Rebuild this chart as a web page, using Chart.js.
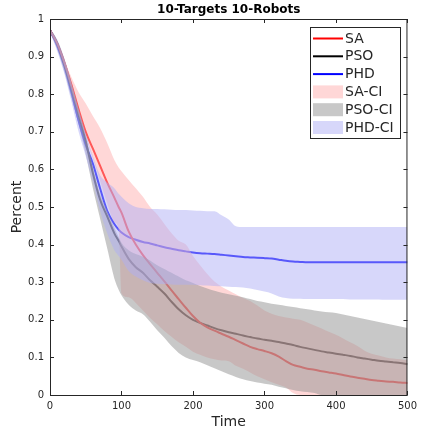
<!DOCTYPE html>
<html lang="en">
<head>
  <meta charset="UTF-8">
  <title>10-Targets 10-Robots</title>
  <script src="https://cdn.jsdelivr.net/npm/chart.js"></script>
  <style>
    html, body { margin: 0; padding: 0; background: #fff; }
    #wrap { width: 422px; height: 437px; }
  </style>
</head>
<body>
  <div id="wrap"><canvas id="chart" width="422" height="437"></canvas></div>

  <script>
    // time steps (x values) shared by every series
    const time = [0, 10, 20, 30, 40, 50, 60, 70, 80, 90, 96,
      100, 110, 120, 130, 140, 150, 160, 170, 180, 190,
      200, 210, 220, 230, 240, 250, 260, 270, 280, 290,
      300, 310, 320, 330, 340, 350, 360, 370, 380, 390,
      400, 410, 420, 430, 440, 450, 460, 470, 480, 490, 500];

    const saMean = [0.97, 0.935, 0.885, 0.825, 0.76, 0.70, 0.655, 0.61, 0.565, 0.525, 0.50,
      0.485, 0.435, 0.40, 0.372, 0.348, 0.325, 0.302, 0.278, 0.255, 0.232,
      0.21, 0.192, 0.18, 0.171, 0.163, 0.155, 0.146, 0.137, 0.128, 0.122,
      0.117, 0.111, 0.102, 0.09, 0.08, 0.075, 0.07, 0.067, 0.063, 0.06,
      0.057, 0.053, 0.049, 0.046, 0.043, 0.04, 0.038, 0.036, 0.035, 0.033, 0.032];
    const psoMean = [0.97, 0.935, 0.88, 0.815, 0.745, 0.675, 0.59, 0.52, 0.475, 0.43, 0.41,
      0.395, 0.362, 0.34, 0.325, 0.305, 0.288, 0.27, 0.248, 0.228, 0.212,
      0.20, 0.192, 0.185, 0.178, 0.172, 0.167, 0.163, 0.158, 0.154, 0.15,
      0.147, 0.144, 0.141, 0.137, 0.133, 0.128, 0.124, 0.12, 0.116, 0.113,
      0.11, 0.107, 0.104, 0.10, 0.097, 0.094, 0.091, 0.089, 0.087, 0.085, 0.082];
    const phdMean = [0.97, 0.93, 0.875, 0.805, 0.73, 0.665, 0.615, 0.55, 0.49, 0.455, 0.44,
      0.432, 0.42, 0.413, 0.407, 0.403, 0.398, 0.393, 0.389, 0.385, 0.382,
      0.379, 0.377, 0.376, 0.375, 0.373, 0.371, 0.369, 0.367, 0.366, 0.365,
      0.364, 0.363, 0.36, 0.357, 0.355, 0.354, 0.353, 0.353, 0.353, 0.353,
      0.353, 0.353, 0.353, 0.353, 0.353, 0.353, 0.353, 0.353, 0.353, 0.353, 0.353];

    const saUpper = [0.975, 0.94, 0.89, 0.845, 0.805, 0.775, 0.742, 0.71, 0.67, 0.625, 0.605,
      0.595, 0.572, 0.55, 0.527, 0.50, 0.48, 0.455, 0.43, 0.41, 0.40,
      0.37, 0.345, 0.322, 0.302, 0.288, 0.278, 0.268, 0.258, 0.25, 0.238,
      0.225, 0.216, 0.21, 0.206, 0.203, 0.20, 0.193, 0.185, 0.177, 0.168,
      0.16, 0.15, 0.14, 0.13, 0.118, 0.11, 0.105, 0.10, 0.097, 0.095, 0.093];
    const saLower = [0.965, 0.93, 0.875, 0.81, 0.745, 0.685, 0.63, 0.57, 0.51, 0.46, 0.44,
      0.27, 0.26, 0.245, 0.225, 0.205, 0.188, 0.17, 0.155, 0.14, 0.128,
      0.115, 0.107, 0.10, 0.095, 0.092, 0.09, 0.078, 0.07, 0.06, 0.05,
      0.042, 0.034, 0.027, 0.02, 0.005, 0, 0, 0, 0, 0,
      0, 0, 0, 0, 0, 0, 0, 0, 0, 0, 0];
    const psoUpper = [0.975, 0.945, 0.895, 0.83, 0.76, 0.69, 0.605, 0.535, 0.49, 0.445, 0.42,
      0.405, 0.385, 0.375, 0.368, 0.358, 0.345, 0.335, 0.325, 0.315, 0.305,
      0.298, 0.29, 0.283, 0.277, 0.272, 0.268, 0.264, 0.26, 0.255, 0.25,
      0.247, 0.243, 0.24, 0.237, 0.234, 0.231, 0.228, 0.225, 0.222, 0.22,
      0.218, 0.214, 0.21, 0.206, 0.202, 0.198, 0.194, 0.19, 0.186, 0.182, 0.178];
    const psoLower = [0.965, 0.92, 0.86, 0.79, 0.72, 0.64, 0.55, 0.47, 0.39, 0.31, 0.28,
      0.265, 0.24, 0.225, 0.215, 0.195, 0.172, 0.152, 0.13, 0.112, 0.10,
      0.093, 0.087, 0.079, 0.071, 0.063, 0.055, 0.048, 0.042, 0.037, 0.033,
      0.03, 0.027, 0.022, 0.018, 0.013, 0.01, 0.008, 0.005, 0, 0,
      0, 0, 0, 0, 0, 0, 0, 0, 0, 0, 0];
    const phdUpper = [0.975, 0.945, 0.895, 0.83, 0.76, 0.695, 0.635, 0.585, 0.565, 0.55, 0.535,
      0.527, 0.51, 0.50, 0.497, 0.495, 0.495, 0.494, 0.493, 0.492, 0.492,
      0.491, 0.49, 0.489, 0.489, 0.478, 0.467, 0.449, 0.447, 0.447, 0.447,
      0.447, 0.447, 0.447, 0.447, 0.447, 0.447, 0.447, 0.447, 0.447, 0.447,
      0.447, 0.447, 0.447, 0.447, 0.447, 0.447, 0.447, 0.447, 0.447, 0.447, 0.447];
    const phdLower = [0.965, 0.915, 0.855, 0.78, 0.70, 0.635, 0.565, 0.49, 0.43, 0.385, 0.37,
      0.36, 0.33, 0.315, 0.305, 0.298, 0.296, 0.295, 0.294, 0.293, 0.293,
      0.293, 0.292, 0.291, 0.29, 0.289, 0.288, 0.287, 0.286, 0.283, 0.279,
      0.275, 0.27, 0.262, 0.258, 0.256, 0.256, 0.255, 0.255, 0.255, 0.255,
      0.255, 0.255, 0.254, 0.254, 0.254, 0.254, 0.254, 0.253, 0.253, 0.253, 0.253];

    const xTicks = [0, 100, 200, 300, 400, 500];
    const yTickLabels = ['0', '0.1', '0.2', '0.3', '0.4', '0.5', '0.6', '0.7', '0.8', '0.9', '1'];

    const pts = arr => time.map((t, i) => ({ x: t, y: arr[i] }));
    const textColor = '#262626';

    const meanLine = (label, arr, color) => ({
      label, data: pts(arr), borderColor: color, borderWidth: 2,
      pointRadius: 0, fill: false, order: 10, legendKind: 'line', legendColor: color
    });
    const bandLow = (arr, order) => ({
      label: '', data: pts(arr), borderWidth: 0, borderColor: 'transparent',
      pointRadius: 0, fill: false, order
    });
    const bandHigh = (label, arr, color, order) => ({
      label, data: pts(arr), borderWidth: 0, borderColor: 'transparent',
      pointRadius: 0, fill: '-1', backgroundColor: color, order,
      legendKind: 'box', legendColor: color
    });

    // matlab style box, inward ticks, title and legend
    const matlabAxes = {
      id: 'matlabAxes',
      afterDraw(chart) {
        const { ctx, chartArea: a, scales: { x, y } } = chart;
        ctx.save();
        ctx.strokeStyle = textColor;
        ctx.lineWidth = 1;
        ctx.strokeRect(a.left + 0.5, a.top + 0.5, a.right - a.left - 1, a.bottom - a.top);
        ctx.beginPath();
        x.ticks.forEach(t => {
          const px = Math.round(x.getPixelForValue(t.value)) + 0.5;
          ctx.moveTo(px, a.bottom); ctx.lineTo(px, a.bottom - 4);
          ctx.moveTo(px, a.top); ctx.lineTo(px, a.top + 4);
        });
        y.ticks.forEach(t => {
          const py = Math.round(y.getPixelForValue(t.value)) + 0.5;
          ctx.moveTo(a.left, py); ctx.lineTo(a.left + 4, py);
          ctx.moveTo(a.right, py); ctx.lineTo(a.right - 4, py);
        });
        ctx.stroke();

        // title
        ctx.fillStyle = '#000';
        ctx.font = 'bold 12px "DejaVu Sans"';
        ctx.textAlign = 'center';
        ctx.textBaseline = 'middle';
        ctx.fillText('10-Targets 10-Robots', (a.left + a.right) / 2, 10);

        // legend
        const items = chart.data.datasets.filter(d => d.legendKind);
        const bx = 310.5, by = 27.5, bw = 90, bh = 111;
        ctx.fillStyle = '#fff';
        ctx.fillRect(bx, by, bw, bh);
        ctx.strokeStyle = textColor;
        ctx.strokeRect(bx, by, bw, bh);
        ctx.font = '14px "DejaVu Sans"';
        ctx.textAlign = 'left';
        items.forEach((d, i) => {
          const cy = 38.5 + i * 17.8;
          if (d.legendKind === 'line') {
            ctx.strokeStyle = d.legendColor;
            ctx.lineWidth = 2;
            ctx.beginPath();
            ctx.moveTo(313, cy); ctx.lineTo(343, cy);
            ctx.stroke();
          } else {
            ctx.fillStyle = d.legendColor;
            ctx.fillRect(313, cy - 6.5, 30, 13);
          }
          ctx.fillStyle = textColor;
          ctx.fillText(d.label, 345, cy + 0.5);
        });
        ctx.restore();
      }
    };

    new Chart(document.getElementById('chart'), {
      type: 'line',
      data: {
        datasets: [
          meanLine('SA', saMean, '#ff0000'),
          meanLine('PSO', psoMean, '#000000'),
          meanLine('PHD', phdMean, '#0000ff'),
          bandLow(saLower, 3),
          bandHigh('SA-CI', saUpper, 'rgba(255,175,175,0.5)', 3),
          bandLow(psoLower, 2),
          bandHigh('PSO-CI', psoUpper, 'rgba(145,145,145,0.5)', 2),
          bandLow(phdLower, 1),
          bandHigh('PHD-CI', phdUpper, 'rgba(175,175,245,0.5)', 1)
        ]
      },
      options: {
        responsive: false,
        animation: false,
        events: [],
        layout: { padding: { top: 19, right: 13, left: 0, bottom: 0 } },
        elements: { line: { cubicInterpolationMode: 'monotone' } },
        plugins: {
          legend: { display: false }, tooltip: { enabled: false }, title: { display: false },
          filler: { drawTime: 'beforeDatasetDraw' }
        },
        scales: {
          x: {
            type: 'linear', min: 0, max: 500,
            grid: { display: false, drawTicks: false },
            border: { display: false },
            afterFit: s => { s.height = 42; },
            afterBuildTicks: s => { s.ticks = xTicks.map(v => ({ value: v })); },
            ticks: {
              padding: 5, color: textColor, maxRotation: 0,
              font: { family: 'DejaVu Sans', size: 10 },
              callback: v => String(v)
            },
            title: {
              display: true, text: 'Time', color: textColor,
              font: { family: 'DejaVu Sans', size: 14 },
              padding: { top: 0, bottom: 6.6 }
            }
          },
          y: {
            min: 0, max: 1,
            grid: { display: false, drawTicks: false },
            border: { display: false },
            afterFit: s => { s.width = 50; },
            ticks: {
              stepSize: 0.1, padding: 6, color: textColor,
              font: { family: 'DejaVu Sans', size: 10 },
              callback: v => yTickLabels[Math.round(v * 10)]
            },
            title: {
              display: true, text: 'Percent', color: textColor,
              font: { family: 'DejaVu Sans', size: 14 },
              padding: { top: 9, bottom: 0 }
            }
          }
        }
      },
      plugins: [matlabAxes]
    });
  </script>
</body>
</html>
